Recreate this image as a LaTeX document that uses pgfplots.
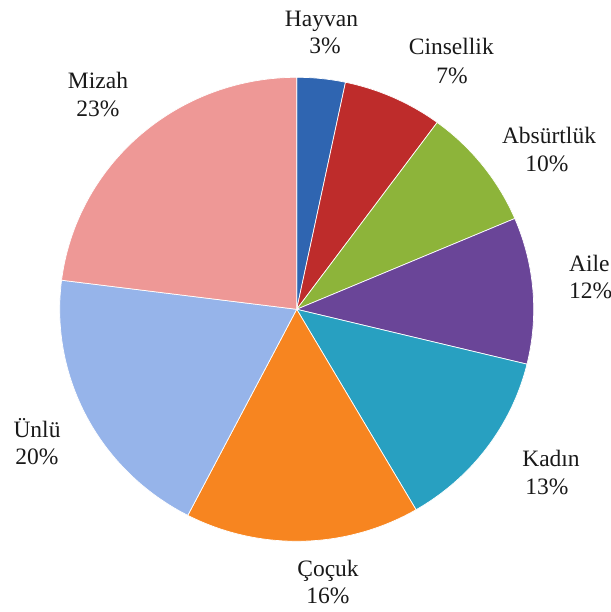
\documentclass[border=0pt]{standalone}
\usepackage{pgfplots}
\pgfplotsset{compat=1.18}
\usepackage{fontspec}
\setmainfont{Liberation Serif}
\definecolor{cHay}{RGB}{47,101,177}
\definecolor{cCin}{RGB}{190,44,43}
\definecolor{cAbs}{RGB}{141,180,58}
\definecolor{cAil}{RGB}{106,69,152}
\definecolor{cKad}{RGB}{40,160,193}
\definecolor{cCoc}{RGB}{247,133,32}
\definecolor{cUnl}{RGB}{150,180,234}
\definecolor{cMiz}{RGB}{238,152,150}
\definecolor{txt}{RGB}{25,25,25}
\begin{document}
\begin{tikzpicture}
\begin{axis}[name=ax, hide axis, scale only axis, width=611bp, height=612bp,
  xmin=0, xmax=611, ymin=0, ymax=612, clip=false]
\xdef\start{0}
\foreach \v/\c in {3.3/cHay,6.8/cCin,8.5/cAbs,10.2/cAil,12.8/cKad,16.0/cCoc,19.4/cUnl,23.0/cMiz}{
  \pgfmathsetmacro\a{\start*3.6}
  \pgfmathsetmacro\b{(\start+\v)*3.6}
  \edef\temp{\noexpand\addplot[fill=\c, draw=white, line width=0.7pt, domain=\a:\b, samples=80, variable=\noexpand\t] ({296.7+237*sin(\noexpand\t)},{302.7+232*cos(\noexpand\t)}) -- (296.7,302.7) -- cycle;}
  \temp
  \pgfmathsetmacro\n{\start+\v}
  \xdef\start{\n}
}
\tikzset{lbl/.style={anchor=base, inner sep=0pt, text=txt, font=\fontsize{23.5bp}{27bp}\selectfont}}
\node[lbl] at (321.5,585.3) {Hayvan};
\node[lbl] at (325,558.7) {3\%};
\node[lbl] at (451.3,557) {Cinsellik};
\node[lbl] at (452,528.7) {7\%};
\node[lbl] at (549,468.7) {Absürtlük};
\node[lbl] at (547,440.3) {10\%};
\node[lbl, anchor=base west] at (569,340.3) {Aile};
\node[lbl, anchor=base west] at (569,313.7) {12\%};
\node[lbl] at (551,145.3) {Kadın};
\node[lbl] at (547,117) {13\%};
\node[lbl] at (328,35) {Çoçuk};
\node[lbl] at (328,9) {16\%};
\node[lbl] at (37,174) {Ünlü};
\node[lbl] at (37,147) {20\%};
\node[lbl] at (98,523) {Mizah};
\node[lbl] at (98,495) {23\%};
\end{axis}
\pgfresetboundingbox
\path[use as bounding box] (ax.south west) rectangle (ax.north east);
\end{tikzpicture}
\end{document}
